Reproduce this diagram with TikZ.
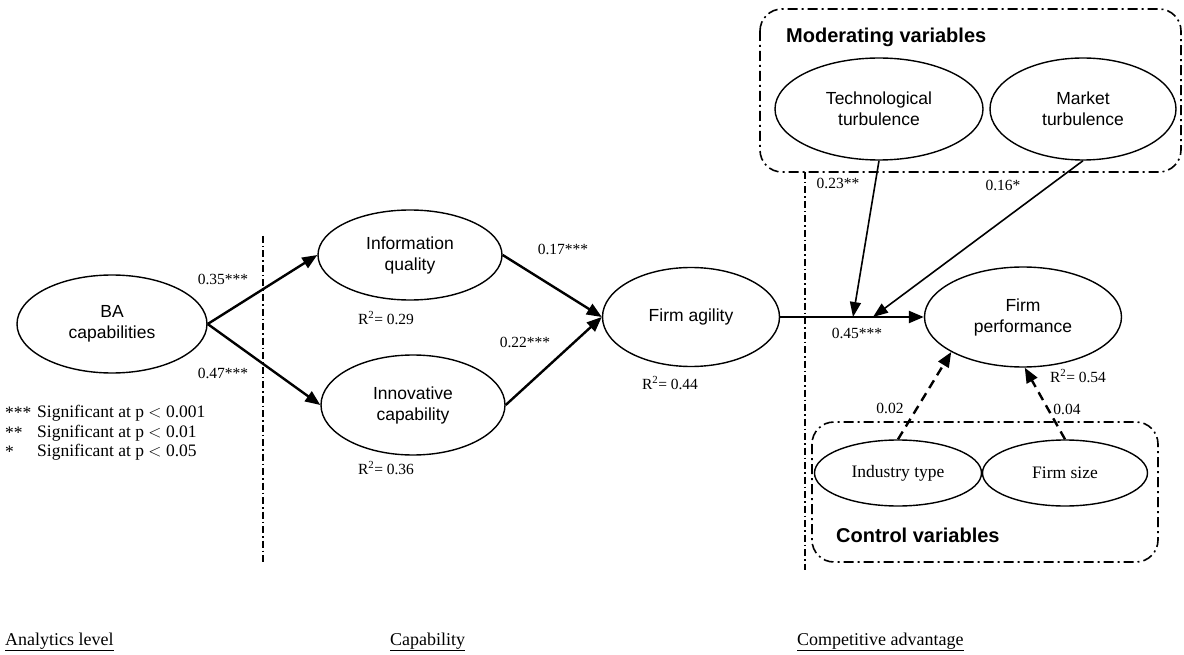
\documentclass[tikz,border=0pt]{standalone}
\usepackage{fontspec}
\setmainfont{Liberation Serif}
\newfontfamily\arialf{Liberation Sans}
\usetikzlibrary{shapes.geometric,arrows.meta}
\tikzset{
  var/.style={draw, ellipse, line width=1.4pt, inner sep=0pt, align=center,
    font=\arialf\fontsize{17.5}{21}\selectfont},
  cvar/.style={draw, ellipse, line width=1.4pt, inner sep=0pt, align=center,
    font=\fontsize{17.5}{21}\selectfont},
  num/.style={inner sep=0pt, font=\fontsize{15.5}{18}\selectfont},
  legend/.style={inner sep=0pt, anchor=west, font=\fontsize{17.5}{20}\selectfont},
  bottomlbl/.style={inner sep=0pt, anchor=west, font=\fontsize{18}{20}\selectfont},
  title/.style={inner sep=0pt, anchor=west, font=\arialf\bfseries\fontsize{20}{24}\selectfont},
  main/.style={line width=2.4pt, -{Triangle[length=15pt,width=12pt]}},
  modarrow/.style={line width=1.6pt, -{Triangle[length=15pt,width=11pt]}},
  ctrl/.style={line width=2.4pt, dash pattern=on 9pt off 6pt, -{Triangle[length=15pt,width=12pt]}},
  divider/.style={line width=1.3pt, dash pattern=on 7pt off 3pt on 1.5pt off 3pt},
  groupbox/.style={line width=1.6pt, rounded corners=22pt, dash pattern=on 10pt off 4pt on 2pt off 4pt},
}
\begin{document}
\begin{tikzpicture}[x=1pt,y=-1pt]
\useasboundingbox (0,0) rectangle (1184,655);
% group boxes
\draw[groupbox] (760,9) rectangle (1181,172);
\draw[groupbox] (812,422) rectangle (1158,562);
\node[title] (modt) at (786,37) {Moderating variables};
\node[title] (ctrlt) at (836,535) {Control variables};
% dividers
\coordinate (d1t) at (263,236);
\coordinate (d1b) at (263,565);
\coordinate (d2t) at (805,172);
\coordinate (d2b) at (805,570);
\draw[divider] (d1t) -- (d1b);
\draw[divider] (d2t) -- (d2b);
% variables
\node[var, minimum width=190pt, minimum height=98pt] (ba) at (112,324) {BA\\capabilities};
\node[var, minimum width=184pt, minimum height=90pt] (iq) at (410,255) {Information\\quality};
\node[var, minimum width=184pt, minimum height=100pt] (ic) at (413,405) {Innovative\\capability};
\node[var, minimum width=177pt, minimum height=99pt] (fa) at (691,317) {Firm agility};
\node[var, minimum width=197pt, minimum height=100pt] (fp) at (1023,317) {Firm\\performance};
\node[var, minimum width=208pt, minimum height=102pt] (tt) at (879,109) {Technological\\turbulence};
\node[var, minimum width=186pt, minimum height=102pt] (mt) at (1083,109) {Market\\turbulence};
\node[cvar, minimum width=167pt, minimum height=66pt] (it) at (898,473) {Industry type};
\node[cvar, minimum width=165pt, minimum height=66pt] (fs) at (1065,473) {Firm size};
% connectors
\draw[main] (ba.east) -- (iq.west);
\draw[main] (ba.east) -- (ic.west);
\draw[main] (iq.east) -- (fa.west);
\draw[main] (ic.east) -- (fa.west);
\draw[main] (fa.east) -- (fp.west);
\coordinate (m1) at (853,317);
\coordinate (m2) at (873,317);
\draw[modarrow] (tt.south) -- (m1);
\draw[modarrow] (mt.south) -- (m2);
\draw[ctrl] (it.north) -- (fp.206.6);
\draw[ctrl] (fs.north) -- (fp.272);
% coefficient labels
\node[num] (l1) at (223,279) {0.35***};
\node[num] (l2) at (223,373) {0.47***};
\node[num] (r1) at (386,318) {R\textsuperscript{2}= 0.29};
\node[num] (r2) at (386,468) {R\textsuperscript{2}= 0.36};
\node[num] (l3) at (563,249) {0.17***};
\node[num] (l4) at (525,342) {0.22***};
\node[num] (r3) at (670,383) {R\textsuperscript{2}= 0.44};
\node[num] (l5) at (857,333) {0.45***};
\node[num] (l6) at (838,183) {0.23**};
\node[num] (l7) at (1003,185) {0.16*};
\node[num] (r4) at (1078,376) {R\textsuperscript{2}= 0.54};
\node[num] (l8) at (890,408) {0.02};
\node[num] (l9) at (1067,409) {0.04};
% legend
\node[legend] (s1) at (5,413) {***};
\node[legend] (s2) at (5,433) {**};
\node[legend] (s3) at (5,452) {*};
\node[legend] (t1) at (37,413) {Significant at p $<$ 0.001};
\node[legend] (t2) at (37,433) {Significant at p $<$ 0.01};
\node[legend] (t3) at (37,452) {Significant at p $<$ 0.05};
% bottom labels
\node[bottomlbl] (b1) at (5,642) {\underline{Analytics\ level}};
\node[bottomlbl] (b2) at (390,642) {\underline{Capability}};
\node[bottomlbl] (b3) at (797,642) {\underline{Competitive advantage}};
\end{tikzpicture}
\end{document}
